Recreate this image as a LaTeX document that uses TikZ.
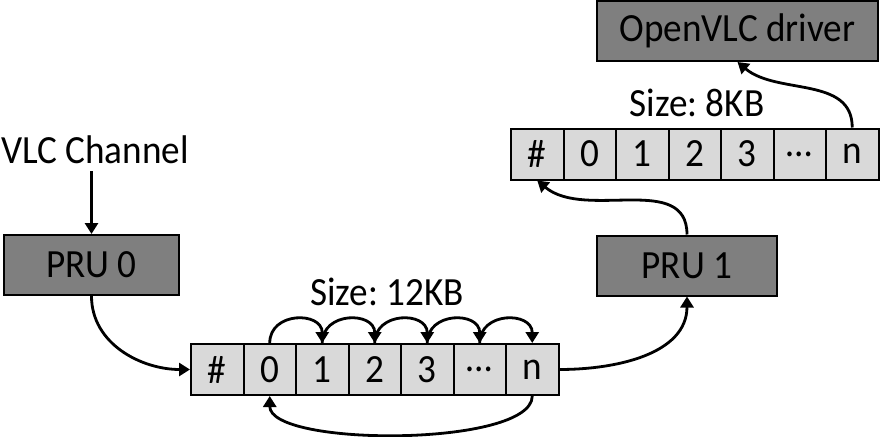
\documentclass[tikz,border=0pt]{standalone}
\usepackage{fontspec}
\setmainfont{Carlito}[FakeStretch=0.93]
\usetikzlibrary{arrows.meta}
\definecolor{unitgray}{HTML}{7F7F7F}
\definecolor{cellgray}{HTML}{D9D9D9}
\frenchspacing
\begin{document}
\begin{tikzpicture}[x=50pt, y=50pt, font=\fontsize{20}{24}\selectfont,
    unit/.style={draw,fill=unitgray,line width=1pt,minimum height=30pt,inner sep=0pt},
    cell/.style={draw,fill=cellgray,line width=1pt,minimum width=26.25pt,minimum height=25.5pt,inner sep=0pt},
    flow/.style={-{Triangle[length=5.5pt,width=6.5pt]},line width=1.4pt} ]
    \useasboundingbox (0,0) rectangle (8.80,4.36);
    % input side
    \node at (0.95,2.86) (vlc) {VLC Channel};
    \node at (0.915,1.71) [unit,minimum width=87.5pt] (pru0) {PRU 0};
    \draw [flow] (pru0.north |- vlc.south) to (pru0.north);
    % receive buffer
    \node at (2.1725,0.665) [cell] (b0) {\#};
    \node at (2.6975,0.665) [cell] (b1) {0};
    \node at (3.2225,0.665) [cell] (b2) {1};
    \node at (3.7475,0.665) [cell] (b3) {2};
    \node at (4.2725,0.665) [cell] (b4) {3};
    \node at (4.7975,0.665) [cell] (b5) {\dots};
    \node at (5.3225,0.665) [cell] (b6) {n};
    \node at (3.87,1.44) (bsize) {Size: 12KB};
    \draw [flow] (pru0.south) to[out=-90,in=180] (b0.west);
    \draw [flow] (b1.north) to[out=90,in=90,looseness=1.55] (b2.north);
    \draw [flow] (b2.north) to[out=90,in=90,looseness=1.55] (b3.north);
    \draw [flow] (b3.north) to[out=90,in=90,looseness=1.55] (b4.north);
    \draw [flow] (b4.north) to[out=90,in=90,looseness=1.55] (b5.north);
    \draw [flow] (b5.north) to[out=90,in=90,looseness=1.55] (b6.north);
    \draw [flow] (b6.south) to[out=-90,in=-90,looseness=0.5] (b1.south);
    % second unit
    \node at (6.87,1.705) [unit,minimum width=90pt] (pru1) {PRU 1};
    \draw [flow] (b6.east) to[out=0,in=-90] (pru1.south);
    % send buffer
    \node at (5.3725,2.82) [cell] (t0) {\#};
    \node at (5.8975,2.82) [cell] (t1) {0};
    \node at (6.4225,2.82) [cell] (t2) {1};
    \node at (6.9475,2.82) [cell] (t3) {2};
    \node at (7.4725,2.82) [cell] (t4) {3};
    \node at (7.9975,2.82) [cell] (t5) {\dots};
    \node at (8.5225,2.82) [cell] (t6) {n};
    \node at (6.97,3.33) (tsize) {Size: 8KB};
    \draw [flow] (pru1.north) to[out=90,in=-40] (t0.south);
    % driver
    \node at (7.375,4.05) [unit,minimum width=140.5pt] (drv) {OpenVLC driver};
    \draw [flow] (t6.north) to[out=90,in=-40] (drv.south);
\end{tikzpicture}
\end{document}
